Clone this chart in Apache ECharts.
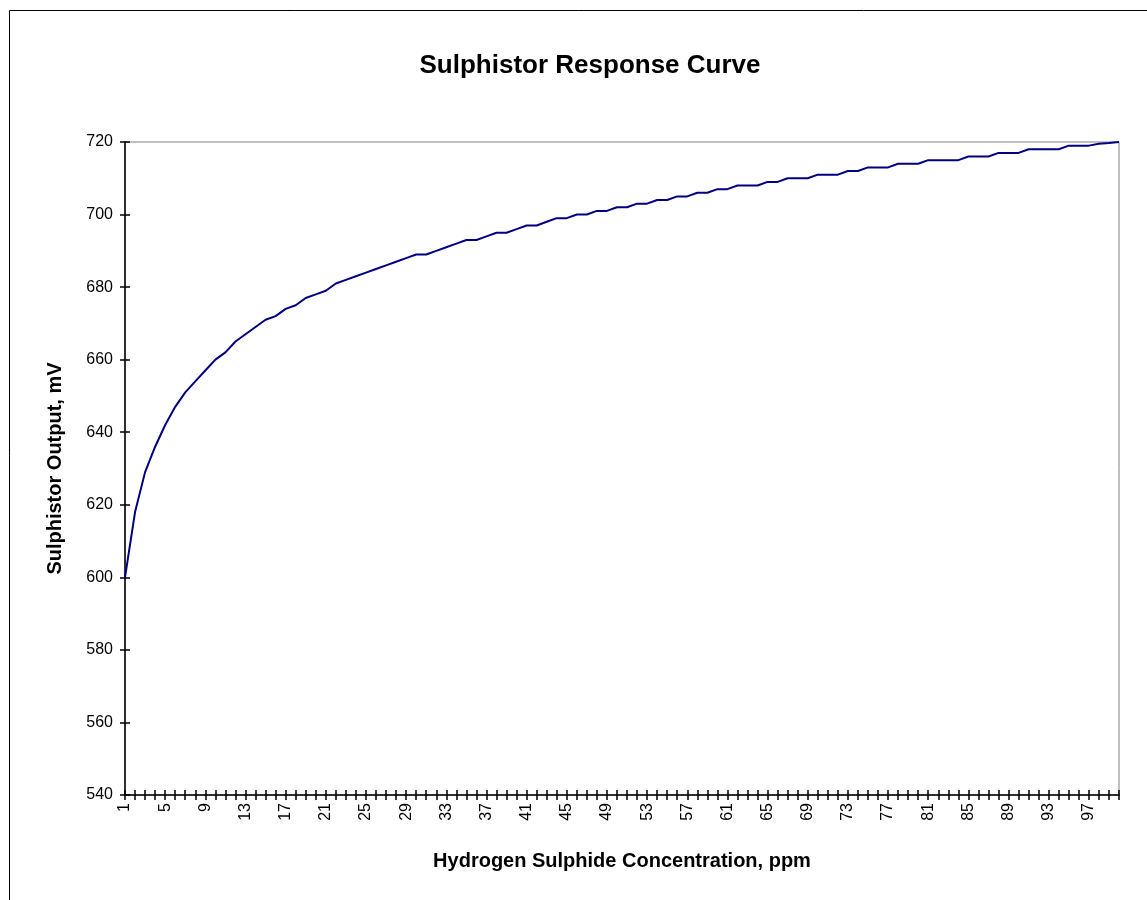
<!DOCTYPE html>
<html><head><meta charset="utf-8">
<script src="https://cdn.jsdelivr.net/npm/echarts@6/dist/echarts.min.js"></script>
<style>html,body{margin:0;padding:0;background:#fff}#c{width:1147px;height:900px}</style>
</head><body><div id="c"></div>
<script>
const titleText = 'Sulphistor Response Curve';
const xName = 'Hydrogen Sulphide Concentration, ppm';
const yName = 'Sulphistor Output, mV';
const concentrations = Array.from({length:100}, (_, i) => String(i + 1));
const outputMv = [
 600,618,629,636,642,647,651,654,657,660,
 662,665,667,669,671,672,674,675,677,678,
 679,681,682,683,684,685,686,687,688,689,
 689,690,691,692,693,693,694,695,695,696,
 697,697,698,699,699,700,700,701,701,702,
 702,703,703,704,704,705,705,706,706,707,
 707,708,708,708,709,709,710,710,710,711,
 711,711,712,712,713,713,713,714,714,714,
 715,715,715,715,716,716,716,717,717,717,
 718,718,718,718,719,719,719,719.5,719.7,720
];
const yMin = 540, yMax = 720, yStep = 20;

const chart = echarts.init(document.getElementById('c'), null, {renderer:'canvas'});
const font = 'Liberation Sans, Arial, sans-serif';
const gridBox = {left:125, top:142, right:28, bottom:105};
chart.setOption({
  animation:false,
  backgroundColor:'#fff',
  title:{text:titleText, left:585, top:48, textAlign:'center',
    textStyle:{fontFamily:font, fontSize:26, fontWeight:'bold', color:'#000'}},
  graphic:[{type:'rect', shape:{x:9.5, y:10.5, width:1300, height:1000},
    style:{fill:'none', stroke:'#000', lineWidth:1}, silent:true, z:-1}],
  grid:Object.assign({show:true, borderColor:'#808080', borderWidth:1, backgroundColor:'transparent'}, gridBox),
  xAxis:[{
    type:'category', data:concentrations, boundaryGap:false,
    name:xName, nameLocation:'middle', nameGap:56,
    nameTextStyle:{fontFamily:font, fontSize:20, fontWeight:'bold', color:'#000'},
    axisLine:{lineStyle:{color:'#000', width:1.5}},
    axisTick:{show:true, interval:0, length:5, lineStyle:{color:'#000', width:1.5}},
    axisLabel:{interval:3, rotate:90, margin:8, fontFamily:font, fontSize:16, color:'#000'},
    splitLine:{show:false}
  },{
    type:'category', data:concentrations, boundaryGap:false, position:'bottom',
    axisLine:{show:false},
    axisTick:{show:true, inside:true, interval:0, length:5, lineStyle:{color:'#000', width:1.5}},
    axisLabel:{show:false}, splitLine:{show:false}
  }],
  yAxis:[{
    type:'value', min:yMin, max:yMax, interval:yStep,
    name:yName, nameLocation:'middle', nameGap:60,
    nameTextStyle:{fontFamily:font, fontSize:20, fontWeight:'bold', color:'#000'},
    axisLine:{show:true, lineStyle:{color:'#000', width:1.5}},
    axisTick:{show:true, length:5, lineStyle:{color:'#000', width:1.5}},
    axisLabel:{margin:12, fontFamily:font, fontSize:16, color:'#000'},
    splitLine:{show:false}
  },{
    type:'value', min:yMin, max:yMax, interval:yStep, position:'left',
    axisLine:{show:false},
    axisTick:{show:true, inside:true, length:5, lineStyle:{color:'#000', width:1.5}},
    axisLabel:{show:false}, splitLine:{show:false}
  }],
  series:[{
    type:'line', data:outputMv, showSymbol:false, symbol:'none',
    lineStyle:{color:'#000080', width:2}, itemStyle:{color:'#000080'}
  }]
});
</script></body></html>
